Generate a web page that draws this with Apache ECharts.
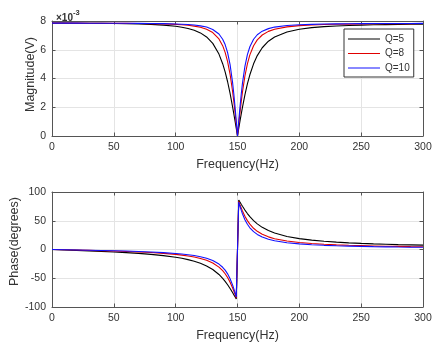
<!DOCTYPE html>
<html>
<head>
<meta charset="utf-8">
<script src="https://cdn.jsdelivr.net/npm/echarts@6/dist/echarts.min.js"></script>
<style>
html,body{margin:0;padding:0;background:#fff;}
#c{width:433px;height:346px;}
</style>
</head>
<body>
<div id="c"></div>
<script>
// Frequencies (Hz) at which values were read
var freqs = [0,10,20,30,40,50,60,70,80,90,100,105,110,115,120,125,130,135,138,140,142,144,146,147,148,149,150,151,152,153,154,156,158,160,163,166,170,175,180,190,200,210,220,230,240,250,260,270,280,290,300];

// Magnitude (x10^-3 V)
var magQ5 = [7.85,7.849,7.847,7.843,7.837,7.828,7.815,7.795,7.764,7.716,7.633,7.570,7.482,7.357,7.173,6.892,6.442,5.699,5.031,4.460,3.774,2.968,2.048,1.555,1.044,0.524,0,0.520,1.031,1.525,1.998,2.867,3.621,4.259,5.021,5.593,6.139,6.593,6.892,7.240,7.426,7.536,7.607,7.655,7.690,7.716,7.735,7.751,7.763,7.773,7.781];
var magQ8 = [7.85,7.849,7.849,7.847,7.845,7.841,7.836,7.828,7.816,7.797,7.763,7.737,7.700,7.646,7.564,7.430,7.198,6.755,6.284,5.820,5.177,4.294,3.116,2.415,1.648,0.835,0,0.830,1.628,2.371,3.047,4.173,5.020,5.641,6.277,6.685,7.027,7.279,7.430,7.594,7.676,7.723,7.752,7.772,7.786,7.797,7.805,7.811,7.816,7.820,7.823];
var magQ10 = [7.85,7.849,7.849,7.848,7.847,7.844,7.841,7.836,7.828,7.816,7.794,7.777,7.753,7.718,7.663,7.577,7.413,7.094,6.734,6.358,5.801,4.965,3.733,2.941,2.035,1.041,0,1.034,2.010,2.891,3.657,4.846,5.658,6.207,6.729,7.042,7.292,7.470,7.577,7.683,7.737,7.768,7.787,7.800,7.809,7.816,7.821,7.825,7.828,7.830,7.833];

// Phase (degrees)
var phQ5 = [0,-0.77,-1.56,-2.39,-3.29,-4.29,-5.44,-6.80,-8.48,-10.62,-13.50,-15.35,-17.60,-20.40,-23.96,-28.61,-34.85,-43.45,-50.14,-55.38,-61.26,-67.79,-74.87,-78.58,-82.35,-86.17,0,86.20,82.46,78.80,75.25,68.58,62.53,57.14,50.24,44.57,38.55,32.87,28.61,22.74,18.92,16.26,14.30,12.79,11.59,10.62,9.81,9.13,8.55,8.04,7.59];
var phQ8 = [0,-0.48,-0.97,-1.49,-2.06,-2.68,-3.41,-4.27,-5.32,-6.68,-8.53,-9.74,-11.22,-13.09,-15.52,-18.83,-23.52,-30.63,-36.83,-42.15,-48.73,-56.84,-66.61,-72.09,-77.88,-83.89,0,83.93,78.03,72.42,67.16,57.88,50.25,44.06,36.91,31.62,26.47,22.00,18.83,14.68,12.09,10.33,9.05,8.07,7.31,6.68,6.17,5.74,5.37,5.04,4.76];
var phQ10 = [0,-0.38,-0.78,-1.19,-1.64,-2.15,-2.73,-3.41,-4.26,-5.36,-6.84,-7.81,-9.02,-10.54,-12.53,-15.26,-19.20,-25.35,-30.92,-35.91,-42.36,-50.77,-61.60,-68.00,-74.97,-82.38,0,82.43,75.16,68.40,62.24,51.88,43.89,37.75,31.00,26.22,21.73,17.90,15.26,11.84,9.73,8.30,7.26,6.47,5.86,5.36,4.94,4.59,4.30,4.04,3.81];

var seriesNames = ['Q=5','Q=8','Q=10'];
var seriesColors = ['#000000','#e00000','#1010ff'];
var xTicks = {min:0, max:300, interval:50};
var magTicks = {min:0, max:8, interval:2};
var phTicks = {min:-100, max:100, interval:50};

function pairs(ys){ return freqs.map(function(f,i){ return [f, ys[i]]; }); }

var FONT = 'Liberation Sans, Arial, Helvetica, sans-serif';
var axisColor = '#555555';
var gridColor = '#e4e4e4';
var labelColor = '#333333';

function xAx(gi, primary, r){
  return {
    type:'value', gridIndex:gi, position: primary ? 'bottom' : 'top',
    min:r.min, max:r.max, interval:r.interval,
    name: primary ? 'Frequency(Hz)' : '', nameLocation:'middle', nameGap:22,
    nameMoveOverlap:false,
    nameTextStyle:{fontFamily:FONT, fontSize:12.5, color:labelColor},
    axisLine:{show:true, onZero:false, lineStyle:{color:axisColor, width:1}},
    axisTick:{show:true, inside:true, length:3.5, lineStyle:{color:axisColor}},
    axisLabel:{show:primary, margin:6, fontFamily:FONT, fontSize:10.5, color:labelColor},
    splitLine:{show:primary, lineStyle:{color:gridColor, width:1}}
  };
}
function yAx(gi, primary, r, name, gap, pad){
  return {
    type:'value', gridIndex:gi, position: primary ? 'left' : 'right',
    min:r.min, max:r.max, interval:r.interval,
    name: primary ? name : '', nameLocation:'middle', nameGap:gap,
    nameMoveOverlap:false,
    nameTextStyle:{fontFamily:FONT, fontSize:12.5, color:labelColor, padding:[0,0,0,pad||0]},
    axisLine:{show:true, onZero:false, lineStyle:{color:axisColor, width:1}},
    axisTick:{show:true, inside:true, length:3.5, lineStyle:{color:axisColor}},
    axisLabel:{show:primary, margin:6, fontFamily:FONT, fontSize:10.5, color:labelColor},
    splitLine:{show:primary, lineStyle:{color:gridColor, width:1}}
  };
}

var series = [];
var magData = [magQ5, magQ8, magQ10];
var phData = [phQ5, phQ8, phQ10];
for (var k=0;k<3;k++){
  series.push({
    name:seriesNames[k], type:'line', xAxisIndex:0, yAxisIndex:0,
    data:pairs(magData[k]), symbol:'none', showSymbol:false,
    lineStyle:{color:seriesColors[k], width:1.1}, itemStyle:{color:seriesColors[k]},
    animation:false, z:3+k
  });
}
for (var k=0;k<3;k++){
  series.push({
    name:seriesNames[k], type:'line', xAxisIndex:2, yAxisIndex:2,
    data:pairs(phData[k]), symbol:'none', showSymbol:false,
    lineStyle:{color:seriesColors[k], width:1.1}, itemStyle:{color:seriesColors[k]},
    animation:false, z:3+k
  });
}

var chart = echarts.init(document.getElementById('c'), null, {renderer:'canvas'});
chart.setOption({
  animation:false,
  backgroundColor:'#ffffff',
  title:{
    text:'{a|×10}{b|-3}', left:51, top:4,
    textStyle:{rich:{
      a:{fontFamily:FONT, fontSize:10, color:labelColor, lineHeight:14, verticalAlign:'bottom'},
      b:{fontFamily:FONT, fontSize:7.5, color:labelColor, lineHeight:14, verticalAlign:'top'}
    }}
  },
  legend:{
    orient:'vertical', left:344, top:29,
    data:seriesNames,
    backgroundColor:'#ffffff', borderColor:'#333333', borderWidth:1,
    padding:[4,4,3,4], itemGap:2.5, itemWidth:32, itemHeight:10, itemTextGap:3,
    icon:'path://M0,5 L32,5 L32,6 L0,6 Z',
    textStyle:{fontFamily:FONT, fontSize:10, color:labelColor, lineHeight:12}
  },
  grid:[
    {left:52, right:10, top:21, height:115, containLabel:false, outerBoundsMode:'none'},
    {left:52, right:10, top:192, height:115, containLabel:false, outerBoundsMode:'none'}
  ],
  xAxis:[ xAx(0,true,xTicks), xAx(0,false,xTicks), xAx(1,true,xTicks), xAx(1,false,xTicks) ],
  yAxis:[ yAx(0,true,magTicks,'Magnitude(V)',15,8), yAx(0,false,magTicks,'',0),
          yAx(1,true,phTicks,'Phase(degrees)',31,16), yAx(1,false,phTicks,'',0) ],
  series:series
});
</script>
</body>
</html>
